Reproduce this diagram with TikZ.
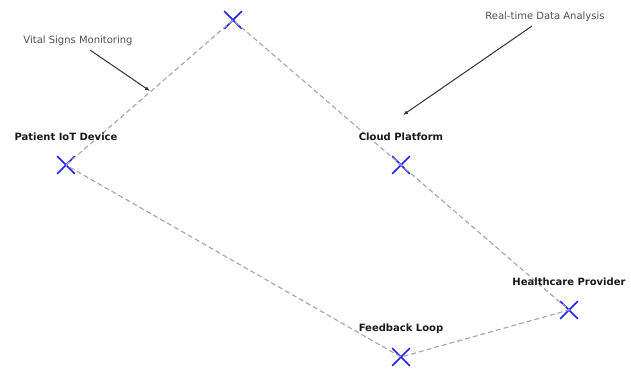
\documentclass[tikz,border=0pt]{standalone}
\usepackage{fontspec}
\setmainfont{DejaVu Sans}
\usetikzlibrary{arrows.meta,shapes.misc,calc}
\definecolor{LinkClr}{RGB}{170,170,170}
\definecolor{MarkClr}{RGB}{30,30,255}
\definecolor{NoteClr}{RGB}{80,80,80}

\begin{document}
\begin{tikzpicture}[x=1pt,y=-1pt,
  mark x/.style={cross out,draw=MarkClr,line width=1.6pt,minimum size=16pt,inner sep=0pt},
  link/.style={draw=LinkClr,line width=1.2pt,dash pattern=on 5pt off 3pt},
  lbl/.style={font=\bfseries\fontsize{10}{12}\selectfont,text=black!90,inner sep=0pt},
  note/.style={font=\fontsize{10}{12}\selectfont,text=NoteClr,inner sep=0pt},
  note arrow/.style={draw=black!80,line width=1pt,-{Latex[length=5pt,width=4pt]}}]
\useasboundingbox (0,0) rectangle (631,369);

\node[mark x] (iot) at (66,165) {};
\node[mark x] (top) at (233,20) {};
\node[mark x] (cloud) at (401,165) {};
\node[mark x] (care) at (569,310) {};
\node[mark x] (loop) at (401,357) {};

% dashed loop through the points
\draw[link] (iot.center) -- (top.center) -- (cloud.center) -- (care.center) -- (loop.center) -- (iot.center);

\node[lbl] (iotlbl) at ([yshift=28pt]iot) {Patient IoT Device};
\node[lbl] (cloudlbl) at ([yshift=28pt]cloud) {Cloud Platform};
\node[lbl] (carelbl) at ([yshift=28pt]care) {Healthcare Provider};
\node[lbl] (looplbl) at ([yshift=28pt]loop) {Feedback Loop};

% annotations
\node[note] (vitals) at (78,41) {Vital Signs Monitoring};
\coordinate (vitalsend) at (150,91);
\draw[note arrow] ([xshift=12pt,yshift=-4pt]vitals.south) -- (vitalsend);

\node[note] (analysis) at (545,17) {Real-time Data Analysis};
\coordinate (analysisend) at (403,115);
\draw[note arrow] ([xshift=-13pt,yshift=-4pt]analysis.south) -- (analysisend);

\end{tikzpicture}
\end{document}
